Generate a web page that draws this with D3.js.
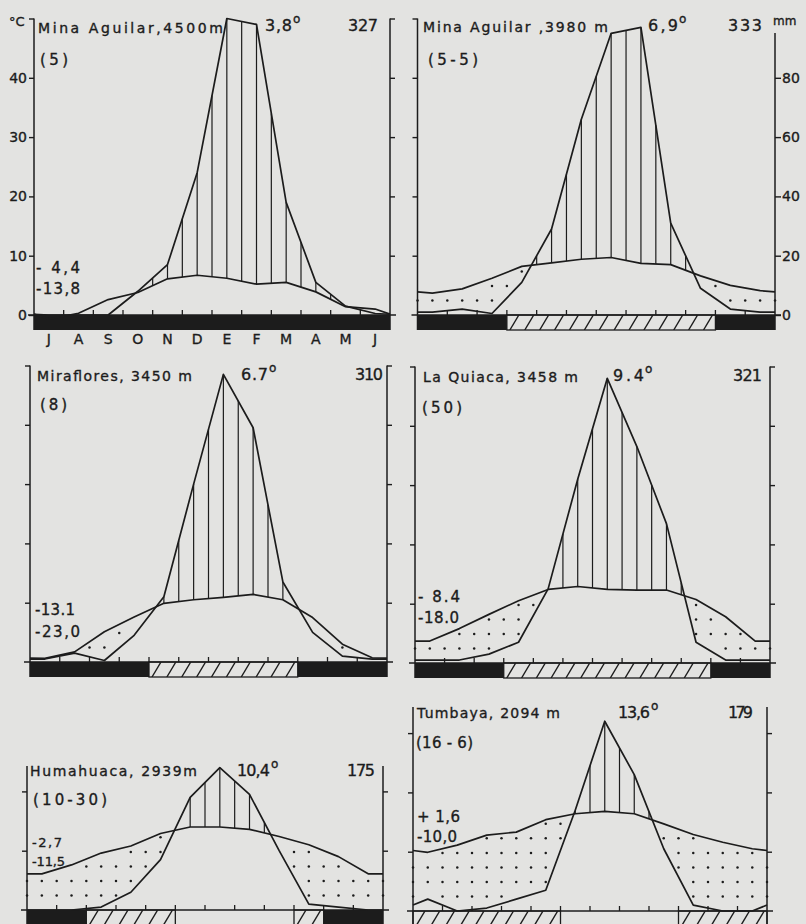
<!DOCTYPE html>
<html>
<head>
<meta charset="utf-8">
<script src="https://cdn.jsdelivr.net/npm/d3@7"></script>
<style>
  body { margin: 0; background: #e3e3e1; }
  svg { display: block; }
  text { font-family: "DejaVu Sans", "Liberation Sans", sans-serif; fill: #1c1c1c; stroke: #1c1c1c; stroke-width: 0.35px; }
</style>
</head>
<body>
<svg id="chart" width="806" height="924"></svg>
<script>
// Climate diagrams (Walter-Lieth), months July .. June
var months = ["J", "A", "S", "O", "N", "D", "E", "F", "M", "A", "M", "J"];

var titles = ["Mina Aguilar,4500m", "Mina Aguilar ,3980 m", "Miraflores, 3450 m", "La Quiaca, 3458 m", "Humahuaca, 2939m", "Tumbaya, 2094 m"];
var meanTemps = ["3,8", "6,9", "6.7", "9.4", "10,4", "13,6"];
var annualSums = ["327", "333", "310", "321", "175", "179"];
var periods = ["(5)", "(5-5)", "(8)", "(50)", "(10-30)", "(16 - 6)"];
var extremeHigh = ["- 4,4", "", "-13.1", "- 8.4", "-2,7", "+ 1,6"];
var extremeLow = ["-13,8", "", "-23,0", "-18.0", "-11,5", "-10,0"];
var axisTops = [50, 50, 50, 50, 24.3, 34.4];   // top of the axis, in degC

// monthly mean temperature, degC
var tempMina4500 = [-0.7, 0.3, 2.6, 3.8, 6.1, 6.7, 6.2, 5.2, 5.5, 3.9, 1.4, 1.0];
var tempMina3980 = [3.7, 4.4, 6.2, 8.2, 8.8, 9.4, 9.7, 8.7, 8.5, 6.6, 5.0, 4.1];
var tempMiraflores = [0.6, 1.7, 5.1, 7.6, 9.9, 10.5, 10.9, 11.4, 10.5, 7.5, 3.0, 0.7];
var tempLaQuiaca = [3.7, 5.8, 8.2, 10.5, 12.4, 12.9, 12.4, 12.3, 12.3, 10.7, 7.8, 3.7];
var tempHumahuaca = [6.1, 7.6, 9.6, 10.8, 12.9, 14.0, 14.0, 13.6, 12.4, 11.0, 9.0, 6.1];
var tempTumbaya = [9.9, 11.1, 12.8, 13.3, 15.4, 16.4, 16.8, 16.4, 14.7, 12.9, 11.6, 10.5];

// monthly precipitation, mm
var precMina4500 = [0, 0, 0, 8, 17, 48, 100, 98, 38, 11, 3, 0.5];
var precMina3980 = [1, 2, 0.5, 11, 29, 66, 95, 97, 31, 9, 2, 1];
var precMiraflores = [1, 3, 0.5, 9, 22, 60, 97, 79, 27, 10, 2, 1];
var precLaQuiaca = [1, 1, 3, 7, 25, 62, 96, 73, 47, 7, 1, 1];
var precHumahuaca = [0, 0, 1, 6, 17, 38, 48, 39, 20, 2, 1, 0];
var precTumbaya = [4, 0, 1, 4, 7, 34, 64, 46, 21, 2, 0, 0];

// frost bar: 2 = black, 1 = hatched, 0 = none
var frostMina4500 = [2, 2, 2, 2, 2, 2, 2, 2, 2, 2, 2, 2];
var frostMina3980 = [2, 2, 2, 1, 1, 1, 1, 1, 1, 1, 2, 2];
var frostMiraflores = [2, 2, 2, 2, 1, 1, 1, 1, 1, 2, 2, 2];
var frostLaQuiaca = [2, 2, 2, 1, 1, 1, 1, 1, 1, 1, 2, 2];
var frostHumahuaca = [2, 2, 1, 1, 1, 0, 0, 0, 0, 1, 2, 2];
var frostTumbaya = [1, 1, 1, 1, 1, 0, 0, 0, 0, 1, 1, 1];

var temps = [tempMina4500, tempMina3980, tempMiraflores, tempLaQuiaca, tempHumahuaca, tempTumbaya];
var precs = [precMina4500, precMina3980, precMiraflores, precLaQuiaca, precHumahuaca, precTumbaya];
var frosts = [frostMina4500, frostMina3980, frostMiraflores, frostLaQuiaca, frostHumahuaca, frostTumbaya];

/**
 * Layout (pixels): axis positions and label anchors [x, baseline, width]
 */
var panels = [
  { x0: 34, x1: 390, y0: 315, title: [38, 33, 185], mean: [265, 31, 27], sum: [348, 31, 30], period: [40, 65, 28], ext: [36, 273, 44, 294, 44], extSize: 15 },
  { x0: 417.5, x1: 775, y0: 315, title: [423, 32, 185], mean: [648, 31, 30], sum: [728, 31, 34], period: [428, 65, 50], ext: null, rightTop: 33 },
  { x0: 30, x1: 387, y0: 662, title: [37, 381, 155], mean: [241, 380, 27], sum: [355, 380, 28], period: [40, 410, 27], ext: [35, 615, 40, 637, 45], extSize: 15 },
  { x0: 415, x1: 770, y0: 663, title: [423, 382, 155], mean: [613, 381, 31], sum: [733, 381, 29], period: [422, 413, 40], ext: [418, 602, 42, 623, 41], extSize: 15 },
  { x0: 27, x1: 383, y0: 910, title: [30, 776, 167], mean: [237, 776, 33], sum: [347, 776, 28], period: [33, 805, 74], ext: [32, 847, 30, 866, 33], extSize: 13 },
  { x0: 413, x1: 767, y0: 911, title: [417, 718, 143], mean: [618, 718, 32], sum: [728, 718, 25], period: [416, 748, 57], ext: [417, 822, 43, 842, 40], extSize: 15 }
];

var ink = "#1c1c1c";
var px10 = 59.3;      // pixels per 10 degC (= 20 mm)
var barH = 15;

var svg = d3.select("#chart");
svg.append("rect").attr("width", 806).attr("height", 924).attr("fill", "#e3e3e1");
var defs = svg.append("defs");

// precipitation in degC-equivalent (10 degC = 20 mm, 1/10 above 100 mm)
function toC(p) { return p <= 100 ? p / 2 : 50 + (p - 100) / 20; }

// curve runs to the axes with the Jun/Jul mean at both ends
function withEnds(arr) {
  var e = (arr[0] + arr[11]) / 2;
  return [[0, e]].concat(arr.map(function(v, i) { return [i + 0.5, v]; }), [[12, e]]);
}

function valueAt(pts, m) {
  for (var i = 1; i < pts.length; i++) {
    if (m <= pts[i][0]) {
      var a = pts[i - 1], b = pts[i];
      return a[1] + (b[1] - a[1]) * (m - a[0]) / (b[0] - a[0]);
    }
  }
  return pts[pts.length - 1][1];
}

function runs(codes, v) {
  var out = [], s = null;
  codes.forEach(function(c, i) {
    if (c === v && s === null) s = i;
    if (c !== v && s !== null) { out.push([s, i]); s = null; }
  });
  if (s !== null) out.push([s, codes.length]);
  return out;
}

function label(g, txt, pos, size) {
  if (!txt) return;
  g.append("text")
    .attr("x", pos[0]).attr("y", pos[1])
    .attr("font-size", size)
    .attr("textLength", pos[2])
    .attr("lengthAdjust", "spacing")
    .text(txt);
}

panels.forEach(function(P, k) {
  var temp = temps[k], frost = frosts[k], top = axisTops[k];
  var x = d3.scaleLinear().domain([0, 12]).range([P.x0, P.x1]);
  var y = d3.scaleLinear().domain([0, 10]).range([P.y0, P.y0 - px10]);
  var g = svg.append("g").attr("class", "panel");

  var tPts = withEnds(temp);
  var pPts = withEnds(precs[k].map(toC));

  // Frost bars
  runs(frost, 2).forEach(function(r) {
    g.append("rect")
      .attr("x", x(r[0])).attr("y", P.y0)
      .attr("width", x(r[1]) - x(r[0])).attr("height", barH)
      .attr("fill", ink);
  });
  runs(frost, 1).forEach(function(r, j) {
    var id = "clip" + k + "_" + j;
    defs.append("clipPath").attr("id", id)
      .append("rect")
      .attr("x", x(r[0])).attr("y", P.y0)
      .attr("width", x(r[1]) - x(r[0])).attr("height", barH);
    var hg = g.append("g").attr("clip-path", "url(#" + id + ")");
    d3.range(r[0] - 0.5, r[1] + 0.01, 0.5).forEach(function(m) {
      hg.append("line")
        .attr("x1", x(m) + 3).attr("y1", P.y0 + barH)
        .attr("x2", x(m) + 12).attr("y2", P.y0)
        .attr("stroke", ink).attr("stroke-width", 1.4);
    });
    g.append("rect")
      .attr("x", x(r[0])).attr("y", P.y0)
      .attr("width", x(r[1]) - x(r[0])).attr("height", barH)
      .attr("fill", "none").attr("stroke", ink).attr("stroke-width", 1.3);
  });

  // Dry season: dots between the curves
  var rowStep = 2.45;
  d3.range(0, 12.01, 0.5).forEach(function(m) {
    var tv = valueAt(tPts, m), pv = valueAt(pPts, m);
    for (var r = 1; r * rowStep < top; r++) {
      var yv = r * rowStep;
      if (yv > pv + 0.5 && yv < tv - 0.5) {
        g.append("circle").attr("cx", x(m)).attr("cy", y(yv)).attr("r", 1.25).attr("fill", ink);
      }
    }
  });

  // Wet season: vertical hatching
  d3.range(0.5, 11.51, 0.5).forEach(function(m) {
    var tv = valueAt(tPts, m), pv = valueAt(pPts, m);
    if (pv - tv > 0.4) {
      g.append("line")
        .attr("x1", x(m)).attr("x2", x(m))
        .attr("y1", y(tv)).attr("y2", y(pv))
        .attr("stroke", ink).attr("stroke-width", 1.2);
    }
  });

  // Zero line and month ticks
  g.append("line")
    .attr("x1", P.x0 - 6).attr("x2", P.x1 + 6)
    .attr("y1", P.y0).attr("y2", P.y0)
    .attr("stroke", ink).attr("stroke-width", 1.5);
  d3.range(1, 12).forEach(function(m) {
    g.append("line")
      .attr("x1", x(m)).attr("x2", x(m))
      .attr("y1", P.y0).attr("y2", P.y0 - 5)
      .attr("stroke", ink).attr("stroke-width", 1.3);
  });

  // Axes
  var ticks = [10, 20, 30, 40, 50].filter(function(v) { return v <= top + 0.01; });
  var leftAxis = d3.axisLeft(y).tickSize(5).tickPadding(2);
  if (k === 0) {
    leftAxis.tickValues([0].concat(ticks)).tickFormat(function(d) { return d === 50 ? "" : d; });
  } else {
    leftAxis.tickValues(ticks).tickFormat("");
  }
  var la = g.append("g").attr("transform", "translate(" + P.x0 + ",0)").call(leftAxis);

  var ra;
  if (k === 1) {
    var yMm = d3.scaleLinear().domain([0, 20]).range([P.y0, P.y0 - px10]);
    ra = g.append("g").attr("transform", "translate(" + P.x1 + ",0)")
      .call(d3.axisRight(yMm).tickValues([0, 20, 40, 60, 80]).tickSize(6).tickPadding(1));
  } else {
    ra = g.append("g").attr("transform", "translate(" + P.x1 + ",0)")
      .call(d3.axisRight(y).tickValues(ticks).tickSize(5).tickFormat(""));
  }
  [la, ra].forEach(function(a) {
    a.select(".domain").remove();
    a.selectAll("line").attr("stroke", ink).attr("stroke-width", 1.4);
    a.selectAll("text")
      .attr("fill", ink)
      .attr("font-family", "DejaVu Sans, sans-serif")
      .attr("font-size", 14);
  });

  g.append("line")
    .attr("x1", P.x0).attr("x2", P.x0)
    .attr("y1", y(top)).attr("y2", P.y0 + barH)
    .attr("stroke", ink).attr("stroke-width", 1.5);
  g.append("line")
    .attr("x1", P.x1).attr("x2", P.x1)
    .attr("y1", P.rightTop || y(top)).attr("y2", P.y0 + barH)
    .attr("stroke", ink).attr("stroke-width", 1.5);

  // Temperature and precipitation curves
  var line = d3.line()
    .x(function(d) { return x(d[0]); })
    .y(function(d) { return y(d[1]); });
  g.append("path").attr("d", line(tPts))
    .attr("fill", "none").attr("stroke", ink).attr("stroke-width", 1.7).attr("stroke-linejoin", "round");
  g.append("path").attr("d", line(pPts))
    .attr("fill", "none").attr("stroke", ink).attr("stroke-width", 1.7).attr("stroke-linejoin", "round");

  // Texts
  label(g, titles[k], P.title, 14);
  label(g, meanTemps[k], P.mean, 16);
  g.append("text")
    .attr("x", P.mean[0] + P.mean[2] + 1).attr("y", P.mean[1] - 8)
    .attr("font-size", 12)
    .text("o");
  label(g, annualSums[k], P.sum, 16);
  label(g, periods[k], P.period, 15);
  if (P.ext) {
    label(g, extremeHigh[k], [P.ext[0], P.ext[1], P.ext[2]], P.extSize);
    label(g, extremeLow[k], [P.ext[0], P.ext[3], P.ext[4]], P.extSize);
  }

  // Month letters under the first diagram only
  if (k === 0) {
    g.selectAll(".month")
      .data(months)
      .enter()
      .append("text")
      .attr("class", "month")
      .attr("x", function(d, i) { return x(i + 0.5); })
      .attr("y", P.y0 + 29)
      .attr("text-anchor", "middle")
      .attr("font-size", 14)
      .text(function(d) { return d; });
  }
});

// unit labels
svg.append("text").attr("x", 9).attr("y", 26).attr("font-size", 13).text("°C");
svg.append("text").attr("x", 773).attr("y", 25).attr("font-size", 12).text("mm");
</script>
</body>
</html>
